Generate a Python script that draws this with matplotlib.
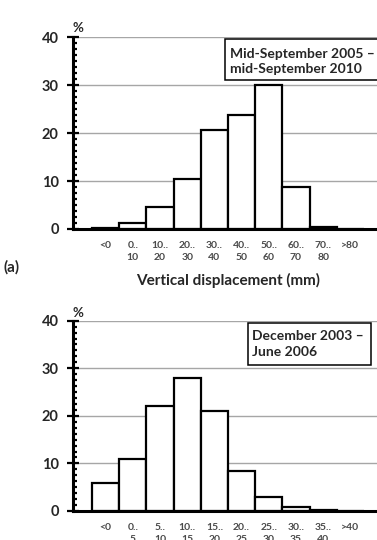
import matplotlib
matplotlib.use("Agg")
import matplotlib.pyplot as plt
from matplotlib.patches import Rectangle
from matplotlib.ticker import MultipleLocator

W, H = 377, 540

# ---- data ----
cats_a = ["<0", "0..\n10", "10..\n20", "20..\n30", "30..\n40", "40..\n50",
          "50..\n60", "60..\n70", "70..\n80", ">80"]
vals_a = [0.3, 1.2, 4.6, 10.4, 20.7, 23.8, 30.0, 8.8, 0.5, 0.1]
cats_b = ["<0", "0..\n5", "5..\n10", "10..\n15", "15..\n20", "20..\n25",
          "25..\n30", "30..\n35", "35..\n40", ">40"]
vals_b = [5.8, 11.0, 22.0, 28.0, 21.0, 8.4, 3.0, 0.9, 0.3, 0.0]
yticks = [0, 10, 20, 30, 40]
box_a = "Mid-September 2005 \u2013\nmid-September 2010"
box_b = "December 2003 \u2013\nJune 2006"
xlabel_a = "Vertical displacement (mm)"

plt.rcParams['font.family'] = ['Lato', 'DejaVu Sans']

fig = plt.figure(figsize=(W / 100, H / 100), dpi=100)


def fx(px):
    return px / W


def fy(py):
    return 1 - py / H


def make_panel(y0_px, y40_px, cats, vals):
    left = fx(72.7)
    ax = fig.add_axes([left, fy(y0_px), 1.0 - left, (y0_px - y40_px) / H])
    x = list(range(len(cats)))
    ax.set_axisbelow(True)
    ax.yaxis.grid(True, color="#a6a6a6", lw=1.0)
    ax.bar(x, vals, width=1.0, color="white", edgecolor="black", lw=1.6, zorder=3)
    ax.set_xlim(-1.21, 9.98)
    ax.set_ylim(0, 40)
    ax.set_yticks(yticks)
    ax.yaxis.set_minor_locator(MultipleLocator(1.25))
    ax.set_xticks(x)
    ax.set_xticklabels(cats, fontsize=7.5, fontweight="bold", color="#4a4a4a",
                       linespacing=1.35)
    ax.tick_params(axis="x", length=0, pad=9)
    ax.tick_params(axis="y", which="major", direction="inout", length=8, width=1.6,
                   labelsize=10.5, pad=6)
    ax.tick_params(axis="y", which="minor", direction="in", length=3.2, width=1.6)
    for lab in ax.get_yticklabels():
        lab.set_fontweight("bold")
        lab.set_color("#262626")
    for s in ["top", "right"]:
        ax.spines[s].set_visible(False)
    ax.spines["left"].set_linewidth(2.2)
    ax.spines["bottom"].set_linewidth(2.2)
    ax.spines["bottom"].set_zorder(4)
    return ax


ax1 = make_panel(229.0, 37.3, cats_a, vals_a)
ax2 = make_panel(511.0, 320.7, cats_b, vals_b)

# % labels
fig.text(fx(72.5), fy(28), "%", fontsize=9.5, fontweight="bold", color="#262626",
         ha="left", va="center")
fig.text(fx(72.5), fy(313), "%", fontsize=9.5, fontweight="bold", color="#262626",
         ha="left", va="center")

# x label and panel tag
fig.text(fx(228), fy(280), xlabel_a, fontsize=11, fontweight="bold", color="#262626",
         ha="center", va="center")
fig.text(fx(4), fy(267), "(a)", fontsize=11, fontweight="bold", color="#262626",
         ha="left", va="center")

# boxes
def box(x0, y0, x1, y1, tx, ty, txt):
    r = Rectangle((fx(x0), fy(y1)), fx(x1) - fx(x0), fy(y0) - fy(y1),
                  transform=fig.transFigure, facecolor="white", edgecolor="black",
                  lw=1.1, zorder=10)
    fig.add_artist(r)
    t = fig.text(fx(tx), fy(ty), txt, fontsize=10, fontweight="bold", color="#262626",
                 ha="left", va="center", linespacing=1.3, zorder=11)
    return t

box(225, 39, 385, 80, 230, 61.5, box_a)
box(248, 323, 371, 365, 252.5, 344, box_b)

fig.savefig("out.png", dpi=100)
